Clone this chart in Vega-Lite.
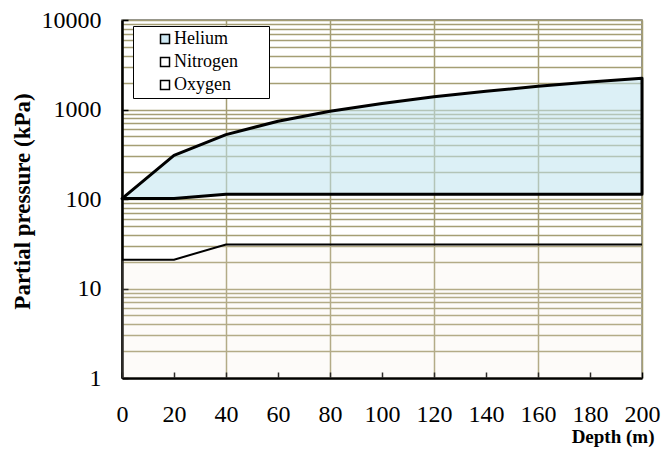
{
  "$schema": "https://vega.github.io/schema/vega-lite/v6.json",
  "width": 520,
  "height": 358,
  "autosize": {"type": "none"},
  "padding": {"left": 122, "top": 20, "right": 30, "bottom": 79},
  "background": "white",
  "config": {
    "font": "Liberation Serif",
    "view": {"stroke": "#707070", "strokeWidth": 1.5}
  },
  "data": {
    "values": [
      {"depth": 0, "Helium": 101, "Nitrogen": 101, "Oxygen": 21},
      {"depth": 20, "Helium": 307, "Nitrogen": 101, "Oxygen": 21},
      {"depth": 40, "Helium": 524, "Nitrogen": 113, "Oxygen": 31},
      {"depth": 60, "Helium": 740, "Nitrogen": 113, "Oxygen": 31},
      {"depth": 80, "Helium": 957, "Nitrogen": 113, "Oxygen": 31},
      {"depth": 100, "Helium": 1170, "Nitrogen": 113, "Oxygen": 31},
      {"depth": 120, "Helium": 1389, "Nitrogen": 113, "Oxygen": 31},
      {"depth": 140, "Helium": 1600, "Nitrogen": 113, "Oxygen": 31},
      {"depth": 160, "Helium": 1815, "Nitrogen": 113, "Oxygen": 31},
      {"depth": 180, "Helium": 2030, "Nitrogen": 113, "Oxygen": 31},
      {"depth": 200, "Helium": 2235, "Nitrogen": 113, "Oxygen": 31}
    ]
  },
  "encoding": {
    "x": {
      "field": "depth",
      "type": "quantitative",
      "title": "Depth (m)",
      "scale": {"domain": [0, 200], "nice": false},
      "axis": {
        "values": [0, 20, 40, 60, 80, 100, 120, 140, 160, 180, 200],
        "format": "d",
        "labelFont": "Liberation Serif",
        "labelFontSize": 24,
        "labelColor": "black",
        "labelPadding": 30,
        "labelOverlap": false,
        "labelFlush": false,
        "grid": true,
        "gridColor": "#A59E74",
        "gridWidth": 1.5,
        "gridOpacity": {"condition": {"test": "datum.value % 40 == 0", "value": 1}, "value": 0},
        "tickSize": -6,
        "tickColor": "black",
        "tickWidth": 1.5,
        "domainColor": "black",
        "domainWidth": 2.5,
        "titleFont": "Liberation Serif",
        "titleFontSize": 19,
        "titleFontWeight": "bold",
        "titleColor": "black",
        "titleAlign": "right",
        "titleBaseline": "middle",
        "titleX": 532,
        "titleY": 58
      }
    }
  },
  "layer": [
    {
      "mark": {"type": "area", "fill": "#F5EBDD", "fillOpacity": 0.18},
      "encoding": {
        "y": {
          "field": "Oxygen",
          "type": "quantitative",
          "title": "Partial pressure (kPa)",
          "scale": {"type": "log", "domain": [1, 10000], "nice": false},
          "axis": {
            "values": [1, 2, 3, 4, 5, 6, 7, 8, 9, 10, 20, 30, 40, 50, 60, 70, 80, 90, 100, 200, 300, 400, 500, 600, 700, 800, 900, 1000, 2000, 3000, 4000, 5000, 6000, 7000, 8000, 9000, 10000],
            "labelExpr": "abs(log(datum.value)/LN10 - round(log(datum.value)/LN10)) < 0.000001 ? format(datum.value, 'd') : ''",
            "labelFont": "Liberation Serif",
            "labelFontSize": 24,
            "labelColor": "black",
            "labelPadding": 27,
            "labelOverlap": false,
            "labelFlush": false,
            "grid": true,
            "gridColor": "#A59E74",
            "gridWidth": 1.5,
            "tickSize": -6,
            "tickWidth": 1.5,
            "tickColor": {"condition": {"test": "abs(log(datum.value)/LN10 - round(log(datum.value)/LN10)) < 0.000001", "value": "black"}, "value": "transparent"},
            "domainColor": "black",
            "domainWidth": 2.5,
            "titleFont": "Liberation Serif",
            "titleFontSize": 23,
            "titleFontWeight": "bold",
            "titleColor": "black",
            "titleAlign": "center",
            "titleBaseline": "middle",
            "titleX": -100,
            "titleY": 181
          }
        },
        "y2": {"datum": 1}
      }
    },
    {
      "mark": {"type": "area", "fill": "#BFE3EF", "fillOpacity": 0.55, "stroke": "black", "strokeWidth": 3, "strokeJoin": "round"},
      "encoding": {
        "y": {"field": "Helium", "type": "quantitative", "title": "Partial pressure (kPa)"},
        "y2": {"field": "Nitrogen"}
      }
    },
    {
      "mark": {"type": "line", "color": "black", "strokeWidth": 2},
      "encoding": {
        "y": {"field": "Oxygen", "type": "quantitative", "title": "Partial pressure (kPa)"}
      }
    },
    {
      "transform": [{"fold": ["Helium", "Nitrogen", "Oxygen"], "as": ["gas", "val"]}],
      "mark": {"type": "point", "shape": "square", "filled": true, "opacity": 0, "stroke": "black"},
      "encoding": {
        "y": {"field": "val", "type": "quantitative", "title": "Partial pressure (kPa)"},
        "fill": {
          "field": "gas",
          "type": "nominal",
          "scale": {"domain": ["Helium", "Nitrogen", "Oxygen"], "range": ["#CFE9F3", "#FFFFFF", "#FFFFFF"]},
          "legend": {
            "orient": "none",
            "legendX": 11,
            "legendY": 6,
            "title": null,
            "strokeColor": "black",
            "fillColor": "white",
            "padding": 4,
            "symbolType": "square",
            "symbolSize": 81,
            "symbolStrokeColor": "black",
            "symbolStrokeWidth": 1.5,
            "symbolOpacity": 1,
            "symbolOffset": 19,
            "labelOffset": 0,
            "labelFont": "Liberation Serif",
            "labelFontSize": 18,
            "labelColor": "black",
            "rowPadding": 5,
            "labelExpr": "datum.label + '\u00a0\u00a0\u00a0\u00a0\u00a0\u00a0\u200b'"
          }
        }
      }
    }
  ]
}
